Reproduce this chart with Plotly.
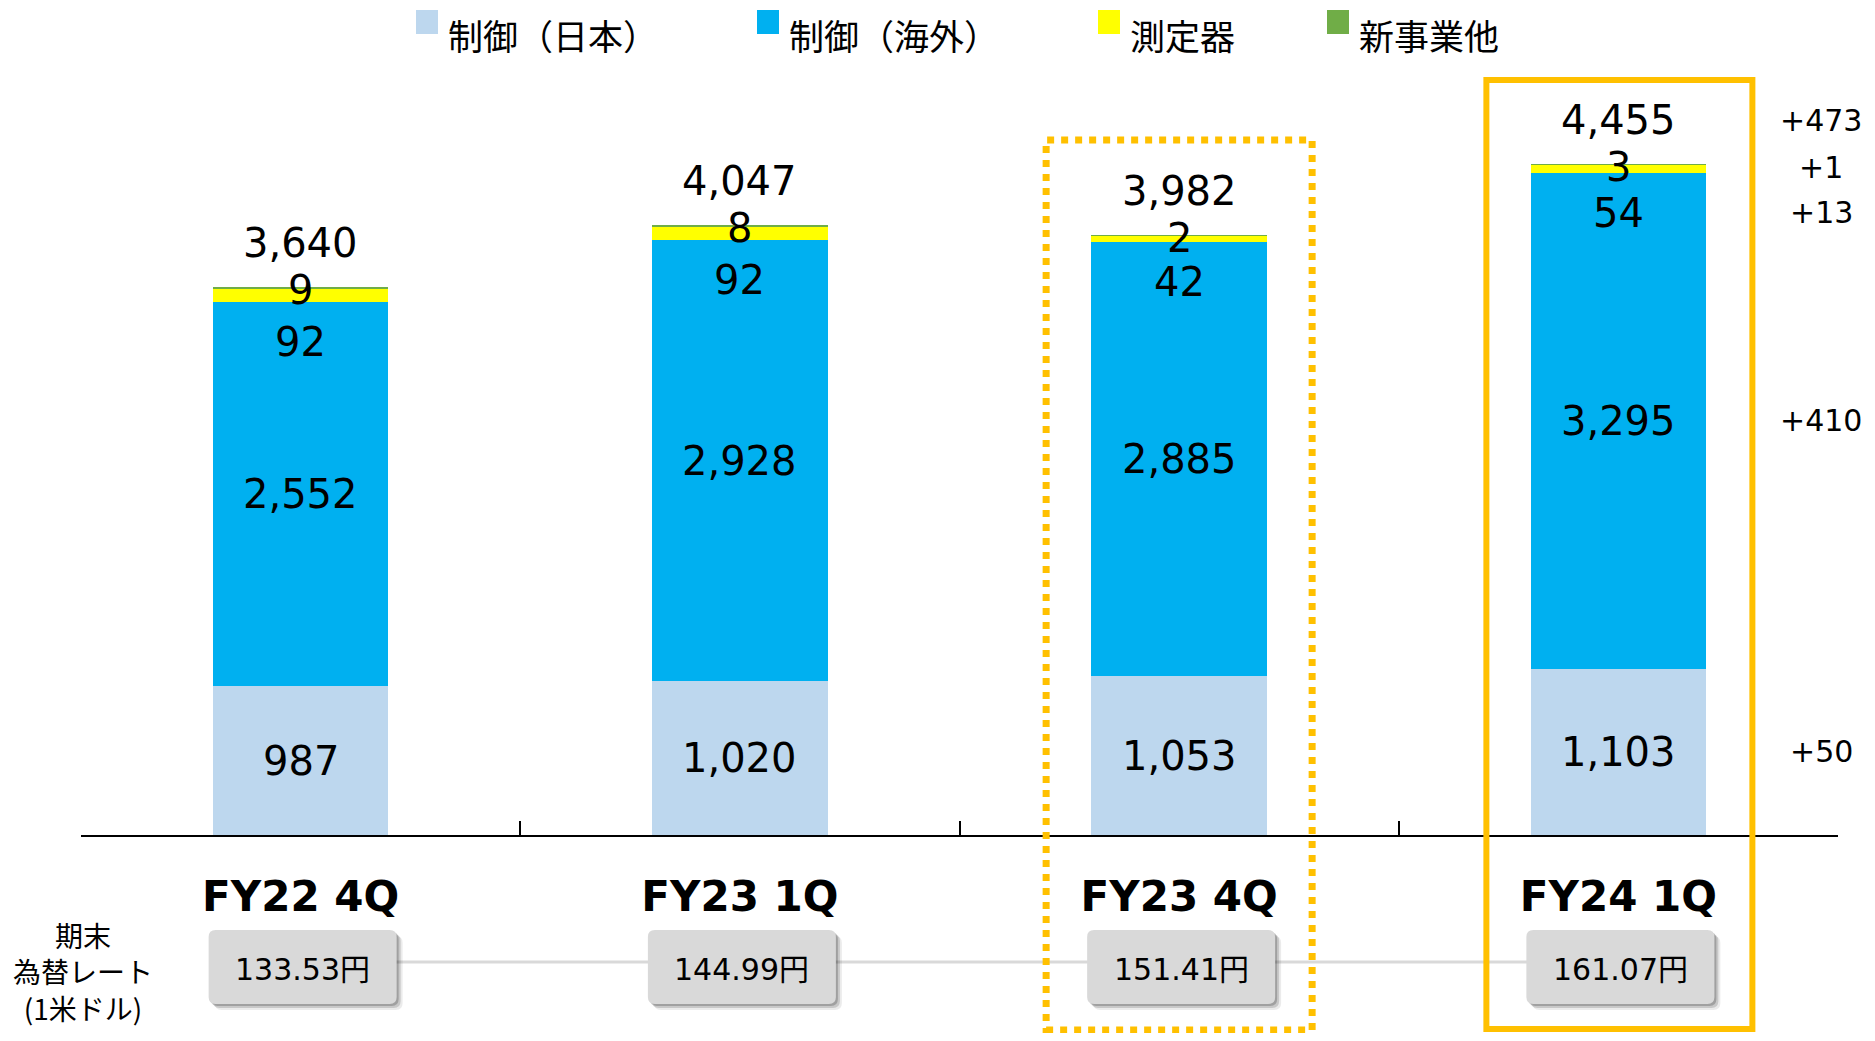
import plotly.graph_objects as go

# data
categories = ["FY22 4Q", "FY23 1Q", "FY23 4Q", "FY24 1Q"]
series_names = ["制御（日本）", "制御（海外）", "測定器", "新事業他"]
ctrl_japan = [987, 1020, 1053, 1103]
ctrl_overseas = [2552, 2928, 2885, 3295]
instruments = [92, 92, 42, 54]
new_business = [9, 8, 2, 3]
totals = [3640, 4047, 3982, 4455]
fx_rates = ["133.53円", "144.99円", "151.41円", "161.07円"]
# change FY23 4Q -> FY24 1Q, per segment bottom-up, then total
deltas = ["+50", "+410", "+13", "+1", "+473"]

colors = ["#BDD7EE", "#00B0F0", "#FFFF00", "#70AD47"]
orange = "#FFC000"
FONT = "DejaVu Sans, Noto Sans CJK JP"
JP = "Noto Sans CJK JP, DejaVu Sans"

# page body has an 8px margin, so the figure is a bit smaller than the window
PAGE = 8
W, H = 1875 - 2 * PAGE, 1041 - 2 * PAGE
# plot area in window pixels
X0, X1, Y0, Y1 = 81, 1838, 60, 835
L, R, T, B = X0 - PAGE, W - (X1 - PAGE), Y0 - PAGE, H - (Y1 - PAGE)
plot_w, plot_h = X1 - X0, Y1 - Y0
ymax = 5146


def px_x(px):
    return (px - X0) / plot_w


def px_y(py):
    return (Y1 - py) / plot_h


series = [ctrl_japan, ctrl_overseas, instruments, new_business]

fig = go.Figure()
for name, vals, col in zip(series_names, series, colors):
    fig.add_trace(go.Bar(x=categories, y=vals, name=name, width=0.4,
                         marker=dict(color=col, line=dict(width=0)),
                         showlegend=False, hoverinfo="skip"))

annotations = []
shapes = []

# value labels
label_pos = []
for i, cat in enumerate(categories):
    j, o, m, n = ctrl_japan[i], ctrl_overseas[i], instruments[i], new_business[i]
    top = j + o + m + n
    pos = [
        (j / 2, 0, f"{j:,}"),
        (j + o / 2, 0, f"{o:,}"),
        (j + o, -40, f"{m:,}"),
        (top, -3, f"{n:,}"),
        (top, 44, f"{totals[i]:,}"),
    ]
    label_pos.append(pos)
    for y, ys, txt in pos:
        annotations.append(dict(x=cat, y=y, yshift=ys, text=txt, showarrow=False,
                                xanchor="center", yanchor="middle",
                                font=dict(size=40, color="#000000", family=FONT)))

# deltas on the right, aligned with last bar's labels
for (y, ys, _), d in zip(label_pos[-1], deltas):
    annotations.append(dict(xref="paper", x=px_x(1821), y=y, yshift=ys, text=d,
                            showarrow=False, xanchor="center", yanchor="middle",
                            font=dict(size=30, color="#000000", family=FONT)))

# exchange-rate row
fx_y = px_y(967)
shapes.append(dict(type="line", xref="x", yref="paper", x0=0, x1=3,
                   y0=px_y(962), y1=px_y(962),
                   line=dict(color="#D9D9D9", width=3), layer="above"))


def rrect(w, h, r, dx=0, dy=0):
    x0, x1, y0, y1 = -w / 2 + dx, w / 2 + dx, -h / 2 + dy, h / 2 + dy
    return (f"M{x0 + r},{y1} L{x1 - r},{y1} Q{x1},{y1} {x1},{y1 - r} "
            f"L{x1},{y0 + r} Q{x1},{y0} {x1 - r},{y0} L{x0 + r},{y0} "
            f"Q{x0},{y0} {x0},{y0 + r} L{x0},{y1 - r} Q{x0},{y1} {x0 + r},{y1} Z")


for i, cat in enumerate(categories):
    for off, alpha in [(6, 0.08), (4, 0.15), (2, 0.2)]:
        shapes.append(dict(type="path", xref="x", yref="paper",
                           xsizemode="pixel", ysizemode="pixel",
                           xanchor=cat, yanchor=fx_y,
                           path=rrect(188, 74, 7, dx=2 + off, dy=-off),
                           fillcolor=f"rgba(0,0,0,{alpha})", line=dict(width=0),
                           layer="above"))
    shapes.append(dict(type="path", xref="x", yref="paper",
                       xsizemode="pixel", ysizemode="pixel",
                       xanchor=cat, yanchor=fx_y,
                       path=rrect(188, 74, 7, dx=2),
                       fillcolor="#D9D9D9", line=dict(width=0), layer="above"))
    annotations.append(dict(x=cat, xshift=2, yref="paper", y=px_y(969), text=fx_rates[i],
                            showarrow=False, xanchor="center", yanchor="middle",
                            font=dict(size=30, color="#000000", family=FONT)))

annotations.append(dict(xref="paper", x=px_x(83), yref="paper", y=px_y(971),
                        text="期末<br>為替レート<br>(1米ドル)", showarrow=False,
                        align="center", xanchor="center", yanchor="middle",
                        font=dict(size=28, color="#000000", family=JP)))

# highlight boxes
shapes.append(dict(type="rect", xref="x", yref="paper", xsizemode="pixel",
                   xanchor=categories[2], x0=-133, x1=133,
                   y0=px_y(1030), y1=px_y(140),
                   line=dict(color=orange, width=7, dash="dot"), layer="above"))
shapes.append(dict(type="rect", xref="x", yref="paper", xsizemode="pixel",
                   xanchor=categories[3], x0=-132, x1=134,
                   y0=px_y(1029), y1=px_y(80),
                   line=dict(color=orange, width=6), layer="above"))

# legend drawn by hand so spacing matches
legend_x = [416, 757, 1098, 1327]
for name, col, lx in zip(series_names, colors, legend_x):
    shapes.append(dict(type="rect", xref="paper", yref="paper",
                       x0=px_x(lx), x1=px_x(lx + 22), y0=px_y(34), y1=px_y(10),
                       fillcolor=col, line=dict(width=0)))
    annotations.append(dict(xref="paper", yref="paper", x=px_x(lx + 30), y=px_y(34),
                            text=name, showarrow=False, xanchor="left", yanchor="middle",
                            font=dict(size=35, color="#000000", family=JP)))

fig.update_layout(
    width=W, height=H,
    margin=dict(l=L, r=R, t=T, b=B, autoexpand=False),
    barmode="stack",
    plot_bgcolor="white", paper_bgcolor="white",
    font=dict(family=FONT, color="#000000"),
    shapes=shapes, annotations=annotations,
    xaxis=dict(type="category", tickson="boundaries", ticks="inside", ticklen=14,
               tickwidth=2, tickcolor="#000000", showline=True, linecolor="#000000",
               linewidth=2, showgrid=False, ticklabelstandoff=24,
               tickfont=dict(size=42, weight="bold", family=FONT, color="#000000")),
    yaxis=dict(range=[0, ymax], visible=False, showgrid=False),
)

fig.write_html("out.html")
